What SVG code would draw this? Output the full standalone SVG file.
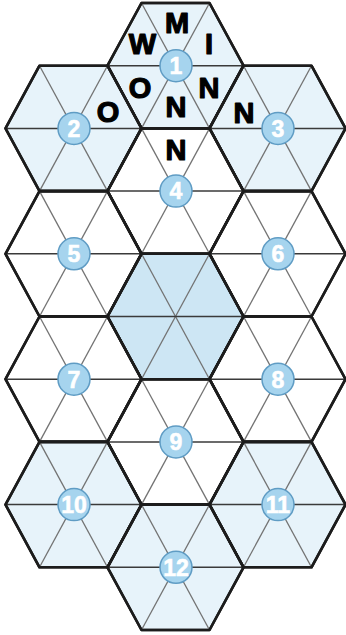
<svg xmlns="http://www.w3.org/2000/svg" xmlns:xlink="http://www.w3.org/1999/xlink" width="346" height="635" viewBox="0 0 346 635">
<style>
.hx{stroke:#1c1c1c;stroke-width:2.6;stroke-linejoin:round}
.lt{fill:#e7f3fa}
.wh{fill:#ffffff}
.md{fill:#cde6f4}
.hline{stroke:#3a3a3a;stroke-width:1.5}
.dline{stroke:#737373;stroke-width:1.3}
.badge{fill:#a6d4ee;stroke:#5f9cc4;stroke-width:1.5}
.num{font-family:"Liberation Sans",Arial,sans-serif;font-weight:bold;font-size:23px;fill:#ffffff;stroke:#ffffff;stroke-width:0.6;text-anchor:middle}
.let{font-family:"Liberation Sans",Arial,sans-serif;font-weight:bold;font-size:29px;fill:#000000;stroke:#000000;stroke-width:1.2;stroke-linejoin:round;text-anchor:middle}
</style>
<defs>
<polygon id="hp" points="-68,0 -34,-62.7 34,-62.7 68,0 34,62.7 -34,62.7"/>
<g id="inner">
<line class="dline" x1="-34" y1="-62.7" x2="34" y2="62.7"/>
<line class="dline" x1="34" y1="-62.7" x2="-34" y2="62.7"/>
<line class="hline" x1="-68" y1="0" x2="68" y2="0"/>
</g>
</defs>
<g id="hexes">
<g id="hex1" transform="translate(175.5,65.7)"><use xlink:href="#hp" class="hx lt"/><use xlink:href="#inner"/></g>
<g id="hex2" transform="translate(73.5,128.4)"><use xlink:href="#hp" class="hx lt"/><use xlink:href="#inner"/></g>
<g id="hex3" transform="translate(277.5,128.4)"><use xlink:href="#hp" class="hx lt"/><use xlink:href="#inner"/></g>
<g id="hex4" transform="translate(175.5,191.1)"><use xlink:href="#hp" class="hx wh"/><use xlink:href="#inner"/></g>
<g id="hex5" transform="translate(73.5,253.8)"><use xlink:href="#hp" class="hx wh"/><use xlink:href="#inner"/></g>
<g id="hex6" transform="translate(277.5,253.8)"><use xlink:href="#hp" class="hx wh"/><use xlink:href="#inner"/></g>
<g id="hexc" transform="translate(175.5,316.5)"><use xlink:href="#hp" class="hx md"/><use xlink:href="#inner"/></g>
<g id="hex7" transform="translate(73.5,379.2)"><use xlink:href="#hp" class="hx wh"/><use xlink:href="#inner"/></g>
<g id="hex8" transform="translate(277.5,379.2)"><use xlink:href="#hp" class="hx wh"/><use xlink:href="#inner"/></g>
<g id="hex9" transform="translate(175.5,441.9)"><use xlink:href="#hp" class="hx wh"/><use xlink:href="#inner"/></g>
<g id="hex10" transform="translate(73.5,504.6)"><use xlink:href="#hp" class="hx lt"/><use xlink:href="#inner"/></g>
<g id="hex11" transform="translate(277.5,504.6)"><use xlink:href="#hp" class="hx lt"/><use xlink:href="#inner"/></g>
<g id="hex12" transform="translate(175.5,567.3)"><use xlink:href="#hp" class="hx lt"/><use xlink:href="#inner"/></g>
</g>
<g id="outlines" fill="none">
<use xlink:href="#hp" class="hx" fill="none" transform="translate(175.5,65.7)"/>
<use xlink:href="#hp" class="hx" fill="none" transform="translate(73.5,128.4)"/>
<use xlink:href="#hp" class="hx" fill="none" transform="translate(277.5,128.4)"/>
<use xlink:href="#hp" class="hx" fill="none" transform="translate(175.5,191.1)"/>
<use xlink:href="#hp" class="hx" fill="none" transform="translate(73.5,253.8)"/>
<use xlink:href="#hp" class="hx" fill="none" transform="translate(277.5,253.8)"/>
<use xlink:href="#hp" class="hx" fill="none" transform="translate(175.5,316.5)"/>
<use xlink:href="#hp" class="hx" fill="none" transform="translate(73.5,379.2)"/>
<use xlink:href="#hp" class="hx" fill="none" transform="translate(277.5,379.2)"/>
<use xlink:href="#hp" class="hx" fill="none" transform="translate(175.5,441.9)"/>
<use xlink:href="#hp" class="hx" fill="none" transform="translate(73.5,504.6)"/>
<use xlink:href="#hp" class="hx" fill="none" transform="translate(277.5,504.6)"/>
<use xlink:href="#hp" class="hx" fill="none" transform="translate(175.5,567.3)"/>
</g>
<g id="badges">
<g id="b1"><circle class="badge" cx="176" cy="65.7" r="16"/><text class="num" x="176" y="74">1</text></g>
<g id="b2"><circle class="badge" cx="74" cy="128.4" r="16"/><text class="num" x="74" y="136.7">2</text></g>
<g id="b3"><circle class="badge" cx="278" cy="128.4" r="16"/><text class="num" x="278" y="136.7">3</text></g>
<g id="b4"><circle class="badge" cx="176" cy="191.1" r="16"/><text class="num" x="176" y="199.4">4</text></g>
<g id="b5"><circle class="badge" cx="74" cy="253.8" r="16"/><text class="num" x="74" y="262.1">5</text></g>
<g id="b6"><circle class="badge" cx="278" cy="253.8" r="16"/><text class="num" x="278" y="262.1">6</text></g>
<g id="b7"><circle class="badge" cx="74" cy="379.2" r="16"/><text class="num" x="74" y="387.5">7</text></g>
<g id="b8"><circle class="badge" cx="278" cy="379.2" r="16"/><text class="num" x="278" y="387.5">8</text></g>
<g id="b9"><circle class="badge" cx="176" cy="441.9" r="16"/><text class="num" x="176" y="450.2">9</text></g>
<g id="b10"><circle class="badge" cx="74" cy="504.6" r="16"/><text class="num" x="74" y="512.9">10</text></g>
<g id="b11"><circle class="badge" cx="278" cy="504.6" r="16"/><text class="num" x="278" y="512.9">11</text></g>
<g id="b12"><circle class="badge" cx="176" cy="567.3" r="16"/><text class="num" x="176" y="575.6">12</text></g>
</g>
<g id="letters">
<text class="let" x="177" y="33">M</text>
<text class="let" x="142.5" y="54">W</text>
<text class="let" x="209" y="54">I</text>
<text class="let" x="140" y="98">O</text>
<text class="let" x="209" y="98">N</text>
<text class="let" x="176" y="116.5">N</text>
<text class="let" x="108" y="121.5">O</text>
<text class="let" x="244" y="122.5">N</text>
<text class="let" x="176" y="159.5">N</text>
</g>
</svg>
